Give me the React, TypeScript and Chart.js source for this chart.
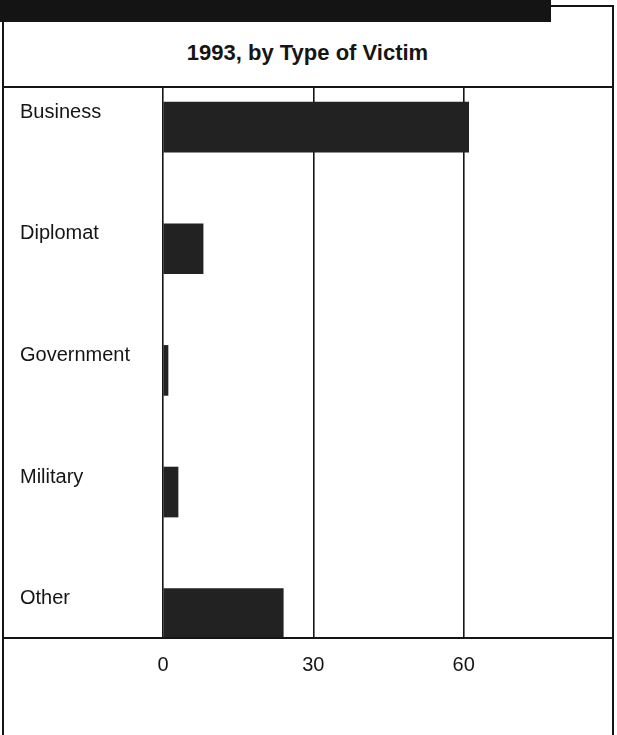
import React, { useEffect, useRef } from 'react';
import { Chart, registerables } from 'chart.js';

Chart.register(...registerables);

const title = '1993, by Type of Victim';
const categories = ['Business', 'Diplomat', 'Government', 'Military', 'Other'];
const values = [61, 8, 1, 3, 24];
const xTicks = [0, 30, 60, 90];
const xTickLabels = ['0', '30', '60', ''];

const FONT = '"Liberation Sans", Arial, sans-serif';
const INK = '#151515';

export default function App() {
  const ref = useRef<HTMLCanvasElement>(null);

  useEffect(() => {
    const canvas = ref.current;
    if (!canvas) return;
    const chart = new Chart(canvas, {
      type: 'bar',
      data: {
        datasets: [
          {
            data: values.map((v, i) => ({ x: v, y: i })),
            backgroundColor: '#222222',
            borderWidth: 0,
            barThickness: 50,
          },
        ],
      },
      options: {
        indexAxis: 'y',
        animation: false,
        responsive: false,
        maintainAspectRatio: false,
        layout: { padding: { left: 20, right: 3, top: 0, bottom: 0 } },
        plugins: {
          legend: { display: false },
          tooltip: { enabled: false },
          title: { display: false },
        },
        scales: {
          x: {
            type: 'linear',
            position: 'bottom',
            min: 0,
            max: 90,
            offset: false,
            afterBuildTicks: (s: any) => {
              s.ticks = xTicks.map((v) => ({ value: v }));
            },
            afterFit: (s: any) => {
              s.height = 97;
              s.paddingLeft = 0;
              s.paddingRight = 0;
            },
            grid: {
              color: (ctx: any) => (ctx.tick && ctx.tick.value === 90 ? 'rgba(0,0,0,0)' : INK),
              lineWidth: 1.6,
              drawTicks: false,
              offset: false,
            },
            border: { display: false },
            ticks: {
              padding: 15,
              autoSkip: false,
              maxRotation: 0,
              color: INK,
              font: { family: FONT, size: 20 },
              callback: (_v: any, i: number) => xTickLabels[i] ?? '',
            },
          },
          y: {
            type: 'linear',
            reverse: true,
            min: -0.33,
            max: 4.2,
            offset: false,
            afterBuildTicks: (s: any) => {
              s.ticks = categories.map((_, i) => ({ value: i }));
            },
            afterFit: (s: any) => {
              s.width = 143;
              s.paddingTop = 0;
              s.paddingBottom = 0;
            },
            grid: { display: false, offset: false },
            border: { display: false },
            ticks: {
              crossAlign: 'far',
              labelOffset: -15,
              autoSkip: false,
              color: INK,
              font: { family: FONT, size: 20 },
              callback: (v: any) => categories[Math.round(Number(v))] ?? '',
            },
          },
        },
      },
    });
    return () => chart.destroy();
  }, []);

  return (
    <div
      style={{
        position: 'fixed',
        left: 0,
        top: 0,
        width: 617,
        height: 735,
        overflow: 'hidden',
        background: '#fff',
      }}
    >
      <div
        style={{
          position: 'absolute',
          left: 2,
          top: 5,
          width: 612,
          height: 760,
          boxSizing: 'border-box',
          border: `2px solid ${INK}`,
        }}
      />
      <div
        style={{
          position: 'absolute',
          left: 0,
          top: 0,
          width: 551,
          height: 22,
          background: '#141414',
          zIndex: 3,
        }}
      />
      <div
        style={{
          position: 'absolute',
          left: 2,
          top: 40,
          width: 611,
          height: 25,
          lineHeight: '25px',
          textAlign: 'center',
          fontFamily: FONT,
          fontWeight: 'bold',
          fontSize: 22,
          color: INK,
        }}
      >
        {title}
      </div>
      <div
        style={{
          position: 'absolute',
          left: 2,
          top: 86,
          width: 611,
          height: 2,
          background: INK,
          zIndex: 2,
        }}
      />
      <canvas
        ref={ref}
        width={617}
        height={648}
        style={{ position: 'absolute', left: 0, top: 87, width: 617, height: 648 }}
      />
      <div
        style={{
          position: 'absolute',
          left: 2,
          top: 637,
          width: 611,
          height: 2,
          background: INK,
          zIndex: 2,
        }}
      />
    </div>
  );
}
